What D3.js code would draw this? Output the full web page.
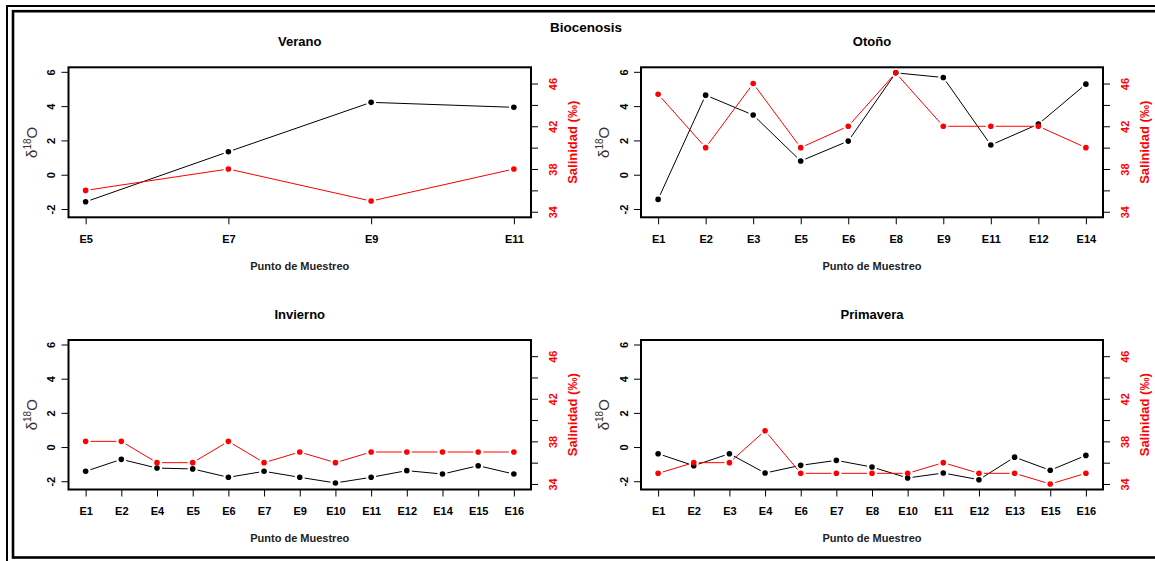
<!DOCTYPE html>
<html>
<head>
<meta charset="utf-8">
<script src="https://cdn.jsdelivr.net/npm/d3@7"></script>
<style>
  html, body { margin: 0; padding: 0; background: #fff; }
  svg { display: block; }
  text { font-family: "Liberation Sans", Arial, sans-serif; }
</style>
</head>
<body>
<svg id="chart" width="1155" height="561"></svg>
<script>
// ---- data -------------------------------------------------------------
const seasons = ["Verano", "Otoño", "Invierno", "Primavera"];

const veranoSites = ["E5", "E7", "E9", "E11"];
const veranoO18   = [-1.58, 1.34, 4.22, 3.93];
const veranoSal   = [36, 38, 35, 38];

const otonoSites = ["E1", "E2", "E3", "E5", "E6", "E8", "E9", "E11", "E12", "E14"];
const otonoO18   = [-1.44, 4.64, 3.48, 0.80, 1.96, 5.94, 5.67, 1.73, 2.95, 5.28];
const otonoSal   = [45, 40, 46, 40, 42, 47, 42, 42, 42, 40];

const inviernoSites = ["E1", "E2", "E4", "E5", "E6", "E7", "E9", "E10", "E11", "E12", "E14", "E15", "E16"];
const inviernoO18   = [-1.42, -0.72, -1.23, -1.28, -1.77, -1.42, -1.77, -2.10, -1.77, -1.38, -1.58, -1.09, -1.58];
const inviernoSal   = [38, 38, 36, 36, 38, 36, 37, 36, 37, 37, 37, 37, 37];

const primaveraSites = ["E1", "E2", "E3", "E4", "E6", "E7", "E8", "E10", "E11", "E12", "E13", "E15", "E16"];
const primaveraO18   = [-0.39, -1.09, -0.39, -1.52, -1.07, -0.78, -1.17, -1.81, -1.52, -1.91, -0.59, -1.36, -0.49];
const primaveraSal   = [35, 36, 36, 39, 35, 35, 35, 35, 36, 35, 35, 34, 35];

// axis limits and ticks
const o18Lim   = [-2.16, 5.94];
const salLim   = [34, 47];
const o18Ticks = [-2, 0, 2, 4, 6];
const salTicks = [34, 36, 38, 40, 42, 44, 46];
const salLabeled = [34, 38, 42, 46];

// ---- layout ---------------------------------------------------------------
const svg = d3.select("#chart");
const cols = [{ left: 68.5, right: 531 }, { left: 641, right: 1103 }];
const rows = [{ top: 67.3, bottom: 217.3 }, { top: 340, bottom: 489.5 }];
const FONT = '"Liberation Sans", Arial, sans-serif';
const RED = "#ff0000";
const TICK_FS = 11;

// R-style axis extension: 4% on each side of the limits
function expand([lo, hi]) {
  const r = hi - lo;
  return [lo - 0.04 * r, hi + 0.04 * r];
}

// double frame around the figure
svg.append("rect").attr("x", 7).attr("y", 6).attr("width", 1170).attr("height", 570)
  .attr("fill", "none").attr("stroke", "#000").attr("stroke-width", 2);
svg.append("rect").attr("x", 13).attr("y", 11.2).attr("width", 1160).attr("height", 546.3)
  .attr("fill", "none").attr("stroke", "#000").attr("stroke-width", 2.6);

svg.append("text").attr("x", 586).attr("y", 27.5).attr("dy", "0.35em")
  .attr("text-anchor", "middle").attr("font-weight", "bold").attr("font-size", 13.5)
  .text("Biocenosis");

const panels = [
  { title: seasons[0], sites: veranoSites,    o18: veranoO18,    sal: veranoSal,    c: 0, r: 0 },
  { title: seasons[1], sites: otonoSites,     o18: otonoO18,     sal: otonoSal,     c: 1, r: 0 },
  { title: seasons[2], sites: inviernoSites,  o18: inviernoO18,  sal: inviernoSal,  c: 0, r: 1 },
  { title: seasons[3], sites: primaveraSites, o18: primaveraO18, sal: primaveraSal, c: 1, r: 1 }
];

// lines + points in R "type = b" style: segments stop short of each point
function drawSeries(g, pts, color) {
  const gap = 5;
  for (let i = 0; i < pts.length - 1; i++) {
    const [x1, y1] = pts[i], [x2, y2] = pts[i + 1];
    const dx = x2 - x1, dy = y2 - y1, len = Math.hypot(dx, dy);
    if (len <= 2 * gap) continue;
    const ux = dx / len, uy = dy / len;
    g.append("line")
      .attr("x1", x1 + ux * gap).attr("y1", y1 + uy * gap)
      .attr("x2", x2 - ux * gap).attr("y2", y2 - uy * gap)
      .attr("stroke", color).attr("stroke-width", 1);
  }
  g.selectAll(null).data(pts).enter().append("circle")
    .attr("cx", d => d[0]).attr("cy", d => d[1]).attr("r", 2.8)
    .attr("fill", color);
}

panels.forEach(p => {
  const box = { left: cols[p.c].left, right: cols[p.c].right, top: rows[p.r].top, bottom: rows[p.r].bottom };
  const n = p.sites.length;
  const g = svg.append("g");

  const x = d3.scaleLinear().domain(expand([1, n])).range([box.left, box.right]);
  const yL = d3.scaleLinear().domain(expand(o18Lim)).range([box.bottom, box.top]);
  const yR = d3.scaleLinear().domain(expand(salLim)).range([box.bottom, box.top]);
  const idx = d3.range(1, n + 1);

  // left axis (delta 18O)
  const ax = g.append("g").attr("transform", `translate(${box.left},0)`)
    .call(d3.axisLeft(yL).tickValues(o18Ticks).tickSize(7).tickFormat(d => String(d)));
  ax.select(".domain").remove();
  ax.selectAll("text").attr("x", null).attr("dy", "0.35em").attr("text-anchor", "middle")
    .attr("transform", "translate(-17,0) rotate(-90)")
    .attr("font-family", FONT).attr("font-weight", "bold").attr("font-size", TICK_FS).attr("fill", "#000");

  // right axis (salinity)
  const ar = g.append("g").attr("transform", `translate(${box.right},0)`)
    .call(d3.axisRight(yR).tickValues(salTicks).tickSize(7)
      .tickFormat(d => salLabeled.includes(d) ? String(d) : ""));
  ar.select(".domain").remove();
  ar.selectAll("text").attr("x", null).attr("dy", "0.35em").attr("text-anchor", "middle")
    .attr("transform", "translate(22,0) rotate(-90)")
    .attr("font-family", FONT).attr("font-weight", "bold").attr("font-size", TICK_FS).attr("fill", RED);

  // bottom axis (sampling points)
  const ab = g.append("g").attr("transform", `translate(0,${box.bottom})`)
    .call(d3.axisBottom(x).tickValues(idx).tickSize(7).tickFormat(i => p.sites[i - 1]));
  ab.select(".domain").remove();
  ab.selectAll("text").attr("y", 22).attr("dy", "0.35em")
    .attr("font-family", FONT).attr("font-weight", "bold").attr("font-size", TICK_FS).attr("fill", "#000");

  // series
  drawSeries(g, p.o18.map((v, i) => [x(i + 1), yL(v)]), "#000");
  drawSeries(g, p.sal.map((v, i) => [x(i + 1), yR(v)]), RED);

  // plot box
  g.append("rect").attr("x", box.left).attr("y", box.top)
    .attr("width", box.right - box.left).attr("height", box.bottom - box.top)
    .attr("fill", "none").attr("stroke", "#000").attr("stroke-width", 2);

  const cx = (box.left + box.right) / 2, cy = (box.top + box.bottom) / 2;

  // panel title
  g.append("text").attr("x", cx).attr("y", box.top - 25.5).attr("dy", "0.35em")
    .attr("text-anchor", "middle").attr("font-weight", "bold").attr("font-size", 13)
    .text(p.title);

  // x axis title
  g.append("text").attr("x", cx).attr("y", box.bottom + 49).attr("dy", "0.35em")
    .attr("text-anchor", "middle").attr("font-weight", "bold").attr("font-size", 11)
    .attr("fill", "#222").text("Punto de Muestreo");

  // left axis title: delta 18O
  const tl = g.append("text")
    .attr("transform", `translate(${box.left - 32},${cy}) rotate(-90)`)
    .attr("text-anchor", "middle").attr("font-size", 15).attr("fill", "#333");
  tl.append("tspan").text("δ");
  tl.append("tspan").attr("font-size", 10).attr("dy", -6).text("18");
  tl.append("tspan").attr("dy", 6).text("O");

  // right axis title
  g.append("text")
    .attr("transform", `translate(${box.right + 41},${cy}) rotate(-90)`)
    .attr("dy", "0.35em").attr("text-anchor", "middle")
    .attr("font-weight", "bold").attr("font-size", 13).attr("fill", RED)
    .text("Salinidad (‰)");
});
</script>
</body>
</html>
